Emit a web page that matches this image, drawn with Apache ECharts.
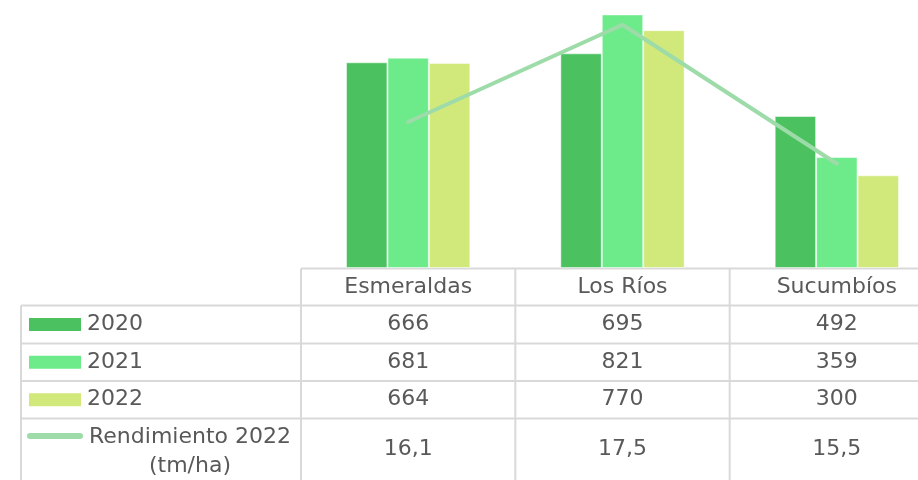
<!DOCTYPE html>
<html>
<head>
<meta charset="utf-8">
<script src="https://cdn.jsdelivr.net/npm/echarts@6/dist/echarts.min.js"></script>
<style>
  html, body { margin: 0; padding: 0; background: #fff; overflow: hidden; width: 918px; height: 480px; position: relative; }
  #chart { position: absolute; left: 0; top: -10px; width: 944px; height: 490px; }
</style>
</head>
<body>
<div id="chart"></div>
<script>
// datos
var provincias = ['Esmeraldas', 'Los Ríos', 'Sucumbíos'];
var anios = ['2020', '2021', '2022'];
var prod2020 = [666, 695, 492];
var prod2021 = [681, 821, 359];
var prod2022 = [664, 770, 300];
var rendimiento2022 = [16.1, 17.5, 15.5];
var rendimientoTexto = ['16,1', '17,5', '15,5'];
var rendimientoNombre = 'Rendimiento 2022\n(tm/ha)';

var colores = ['#4bc160', '#6deb8b', '#d1e97a'];
var colorLinea = '#9ddba8';
var colorTexto = '#595959';
var colorBorde = '#d9d9d9';
var fuente = 'DejaVu Sans';
var dy = 10; // el lienzo empieza 10px por encima de la ventana

var myChart = echarts.init(document.getElementById('chart'));

var option = {
  animation: false,
  grid: { left: 301, right: 0, top: 0, bottom: 212 },
  xAxis: {
    type: 'category',
    data: provincias,
    axisLine: { show: false },
    axisTick: { show: false },
    axisLabel: { show: false }
  },
  yAxis: [
    { type: 'value', min: 0, max: 900, show: false, splitLine: { show: false } },
    { type: 'value', min: 14, max: 18, show: false, splitLine: { show: false } }
  ],
  series: [
    { name: anios[0], type: 'bar', data: prod2020, barGap: '0%', barCategoryGap: '42%',
      itemStyle: { color: colores[0], borderColor: 'rgba(255,255,255,0.5)', borderWidth: 1 } },
    { name: anios[1], type: 'bar', data: prod2021, barGap: '0%', barCategoryGap: '42%',
      itemStyle: { color: colores[1], borderColor: 'rgba(255,255,255,0.5)', borderWidth: 1 } },
    { name: anios[2], type: 'bar', data: prod2022, barGap: '0%', barCategoryGap: '42%',
      itemStyle: { color: colores[2], borderColor: 'rgba(255,255,255,0.5)', borderWidth: 1 } },
    { name: 'Rendimiento 2022', type: 'line', yAxisIndex: 1, data: rendimiento2022,
      symbol: 'none', z: 5,
      lineStyle: { color: colorLinea, width: 4, cap: 'round', join: 'round' } }
  ]
};
myChart.setOption(option);

// tabla de datos debajo del grafico
var centros = provincias.map(function (p, i) {
  return myChart.convertToPixel({ xAxisIndex: 0 }, i);
});
var ancho = centros[1] - centros[0];
var xTabla = centros[0] - ancho / 2;
var xFin = centros[2] + ancho / 2;
var xIzq = 21;
var filas = [268.5, 305.5, 343.5, 381, 418.5, 482].map(function (y) { return y + dy; });
var graficos = [];

function linea(x1, y1, x2, y2) {
  graficos.push({ type: 'line', silent: true,
    shape: { x1: x1, y1: y1, x2: x2, y2: y2 },
    style: { stroke: colorBorde, lineWidth: 2 } });
}
function texto(t, x, y, align) {
  graficos.push({ type: 'text', silent: true, x: x, y: y,
    style: { text: t, fill: colorTexto, font: '22px "' + fuente + '"',
      align: align || 'center', verticalAlign: 'middle', lineHeight: 29 } });
}

linea(xTabla, filas[0], xFin, filas[0]);
for (var r = 1; r < 5; r++) linea(xIzq, filas[r], xFin, filas[r]);
linea(xIzq, filas[1], xIzq, filas[5]);
for (var c = 0; c < 3; c++) {
  linea(xTabla + ancho * c, filas[0], xTabla + ancho * c, filas[5]);
}

provincias.forEach(function (p, i) {
  texto(p, centros[i], (filas[0] + filas[1]) / 2);
});

var valores = [prod2020, prod2021, prod2022];
valores.forEach(function (serie, s) {
  var yc = (filas[s + 1] + filas[s + 2]) / 2;
  graficos.push({ type: 'rect', silent: true,
    shape: { x: 29, y: yc - 6.5, width: 52, height: 13 },
    style: { fill: colores[s] } });
  texto(anios[s], 87, yc, 'left');
  serie.forEach(function (v, i) { texto(String(v), centros[i], yc); });
});

var yR = 449 + dy;
graficos.push({ type: 'line', silent: true,
  shape: { x1: 30, y1: 436 + dy, x2: 80, y2: 436 + dy },
  style: { stroke: colorLinea, lineWidth: 6, lineCap: 'round' } });
texto(rendimientoNombre, 190, 451.5 + dy);
rendimientoTexto.forEach(function (t, i) { texto(t, centros[i], yR); });

myChart.setOption({ graphic: graficos });
</script>
</body>
</html>
